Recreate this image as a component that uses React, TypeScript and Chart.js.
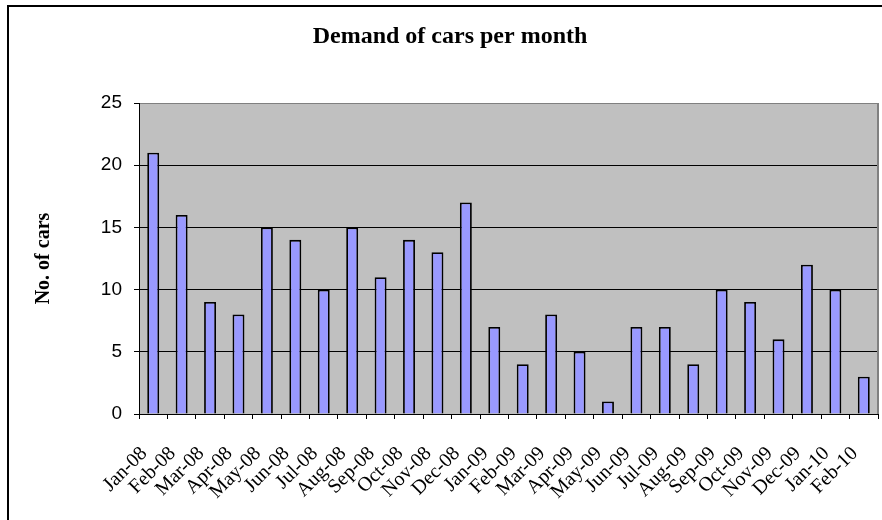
import React, { useEffect, useRef } from "react";
import { Chart, registerables } from "chart.js";

Chart.register(...registerables);

const months = [
  "Jan-08", "Feb-08", "Mar-08", "Apr-08", "May-08", "Jun-08", "Jul-08", "Aug-08",
  "Sep-08", "Oct-08", "Nov-08", "Dec-08", "Jan-09", "Feb-09", "Mar-09", "Apr-09",
  "May-09", "Jun-09", "Jul-09", "Aug-09", "Sep-09", "Oct-09", "Nov-09", "Dec-09",
  "Jan-10", "Feb-10",
];
const demand = [21, 16, 9, 8, 15, 14, 10, 15, 11, 14, 13, 17, 7, 4, 8, 5, 1, 7, 7, 4, 10, 9, 6, 12, 10, 3];
const chartTitle = "Demand of cars per month";
const yTitle = "No. of cars";

const decorPlugin = {
  id: "decor",
  beforeDraw(chart: any) {
    const { ctx, chartArea } = chart;
    ctx.save();
    ctx.fillStyle = "#ffffff";
    ctx.fillRect(0, 0, chart.width, chart.height);
    ctx.fillStyle = "#C0C0C0";
    ctx.fillRect(chartArea.left, chartArea.top, chartArea.right - chartArea.left, chartArea.bottom - chartArea.top);
    ctx.restore();
  },
  afterDraw(chart: any) {
    const { ctx, chartArea } = chart;
    ctx.save();
    ctx.strokeStyle = "#808080";
    ctx.lineWidth = 2;
    ctx.beginPath();
    ctx.moveTo(chartArea.right, chartArea.top);
    ctx.lineTo(chartArea.right, chartArea.bottom);
    ctx.stroke();
    ctx.strokeStyle = "#000000";
    ctx.lineWidth = 2;
    ctx.beginPath();
    ctx.moveTo(8, chart.height + 2);
    ctx.lineTo(8, 6);
    ctx.lineTo(chart.width + 2, 6);
    ctx.stroke();
    ctx.restore();
  },
};

export default function App() {
  const ref = useRef<HTMLCanvasElement | null>(null);
  useEffect(() => {
    document.body.style.margin = "0";
    if (!ref.current) return;
    const chart = new Chart(ref.current, {
      type: "bar",
      data: {
        labels: months,
        datasets: [
          {
            data: demand,
            backgroundColor: "#9999FF",
            borderColor: "#000000",
            borderWidth: 1.8,
            categoryPercentage: 1,
            barPercentage: 0.42,
          },
        ],
      },
      options: {
        responsive: false,
        animation: false,
        layout: { padding: { left: 22, right: 4, top: 0, bottom: 0 } },
        plugins: {
          legend: { display: false },
          tooltip: { enabled: false },
          title: {
            display: true,
            text: chartTitle,
            color: "#000000",
            font: { family: "'Liberation Serif', 'Times New Roman', serif", size: 24, weight: "bold", lineHeight: 1.2 },
            padding: { top: 22, bottom: 52.2 },
          },
        },
        scales: {
          x: {
            offset: true,
            grid: {
              offset: true,
              drawOnChartArea: false,
              drawTicks: true,
              tickLength: 5,
              tickColor: "#000000",
            },
            border: { color: "#000000", width: 1 },
            ticks: {
              autoSkip: false,
              minRotation: 45,
              maxRotation: 45,
              color: "#000000",
              padding: 23,
              labelOffset: -9,
              font: { family: "'Liberation Serif', 'Times New Roman', serif", size: 20 },
            },
            afterFit(scale: any) {
              scale.height = 106;
              scale.paddingLeft = 0;
              scale.paddingRight = 0;
            },
          },
          y: {
            min: 0,
            max: 25,
            ticks: {
              stepSize: 5,
              color: "#000000",
              padding: 12,
              font: { family: "'Liberation Sans', Arial, sans-serif", size: 19 },
            },
            grid: {
              color: (c: any) => (c.tick && c.tick.value === 25 ? "#808080" : "#000000"),
              tickColor: "#000000",
              tickLength: 5,
              lineWidth: 1,
            },
            border: { color: "#000000", width: 1 },
            title: {
              display: true,
              text: yTitle,
              color: "#000000",
              font: { family: "'Liberation Serif', 'Times New Roman', serif", size: 20, weight: "bold", lineHeight: 1.2 },
              padding: { top: 10, bottom: 0 },
            },
            afterFit(scale: any) {
              scale.width = 117;
              scale.paddingTop = 0;
              scale.paddingBottom = 0;
            },
          },
        },
      },
      plugins: [decorPlugin],
    });
    return () => chart.destroy();
  }, []);
  return <canvas ref={ref} width={882} height={520} style={{ display: "block" }} />;
}
